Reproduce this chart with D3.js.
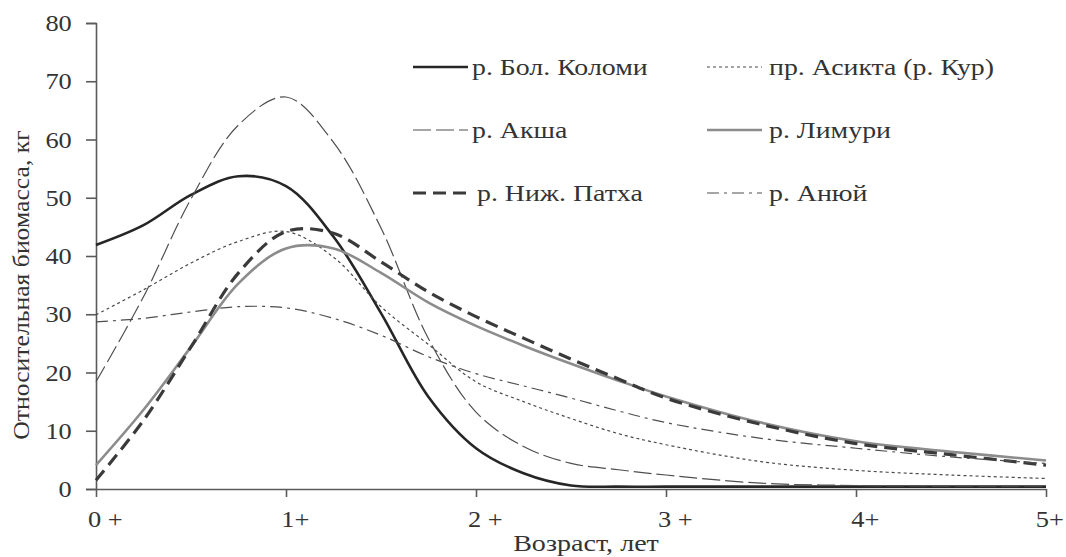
<!DOCTYPE html>
<html>
<head>
<meta charset="utf-8">
<script src="https://cdn.jsdelivr.net/npm/d3@7"></script>
<style>
  body { margin: 0; background: #fff; }
  svg { display: block; font-family: "Liberation Serif", "DejaVu Serif", serif; }
</style>
</head>
<body>
<svg id="chart"></svg>
<script>
const ages = [0, 0.25, 0.5, 0.75, 1, 1.25, 1.5, 1.75, 2, 2.25, 2.5, 2.75, 3, 3.5, 4, 4.5, 5];

const kolomi  = [41.9, 45.3, 50.5, 53.7, 52.0, 43.3, 30.2, 15.8, 7.0, 2.7, 0.6, 0.4, 0.4, 0.4, 0.4, 0.4, 0.4];
const aksha   = [18.4, 33.0, 49.8, 62.5, 67.3, 59.5, 44.8, 25.8, 13.2, 7.3, 4.4, 3.3, 2.4, 1.0, 0.6, 0.5, 0.5];
const patkha  = [1.5, 11.8, 24.4, 37.1, 44.2, 43.9, 39.0, 33.8, 29.6, 25.9, 22.3, 18.9, 15.6, 11.1, 7.8, 5.9, 4.1];
const asikta  = [29.9, 34.2, 38.8, 42.5, 44.2, 39.8, 31.3, 24.8, 18.4, 15.0, 12.1, 9.5, 7.6, 4.7, 3.2, 2.4, 1.8];
const limuri  = [4.1, 13.6, 24.4, 35.3, 41.3, 41.3, 37.1, 32.0, 28.0, 24.6, 21.5, 18.6, 15.9, 11.4, 8.2, 6.4, 4.9];
const anyui   = [28.7, 29.3, 30.4, 31.3, 31.1, 29.3, 26.4, 22.7, 19.8, 17.7, 15.6, 13.4, 11.4, 8.7, 7.0, 5.5, 4.4];

const seriesNames = ["р. Бол. Коломи", "пр. Асикта (р. Кур)", "р. Акша", "р. Лимури", "р. Ниж. Патха", "р. Анюй"];
const xTickValues = [0, 1, 2, 3, 4, 5];
const xTickLabels = ["0 +", "1+", "2 +", "3 +", "4+", "5+"];
const yTickValues = [0, 10, 20, 30, 40, 50, 60, 70, 80];

const width = 1066, height = 557;
const fontSize = 24;
const svg = d3.select("#chart").attr("width", width).attr("height", height);

const x = d3.scaleLinear().domain([0, 5]).range([96, 1046]);
const y = d3.scaleLinear().domain([0, 80]).range([489, 23]);

const axisColor = "#5a5a5a";
const textColor = "#333";

// line styles per series, same order as seriesNames
const styles = [
  { values: kolomi, stroke: "#262626", width: 2.6, dash: null },
  { values: asikta, stroke: "#4a4a4a", width: 1.2, dash: "3,3" },
  { values: aksha,  stroke: "#4f4f4f", width: 1.2, dash: "18,5" },
  { values: limuri, stroke: "#8c8c8c", width: 2.6, dash: null },
  { values: patkha, stroke: "#3a3a3a", width: 3.2, dash: "13,7" },
  { values: anyui,  stroke: "#4f4f4f", width: 1.2, dash: "12,5,3,5" }
];

/* AXES */
const yAxis = svg.append("g")
  .attr("transform", `translate(${x(0)},0)`)
  .call(d3.axisLeft(y).tickValues(yTickValues).tickSize(10).tickPadding(12).tickFormat(d3.format("d")));
yAxis.select(".domain").attr("stroke", axisColor).attr("stroke-width", 1.6);
yAxis.selectAll(".tick line").attr("stroke", axisColor).attr("stroke-width", 1.6);
yAxis.selectAll(".tick text")
  .attr("fill", textColor)
  .attr("transform", "scale(1.1,1)")
  .style("font-size", fontSize + "px")
  .style("font-family", "Liberation Serif");

const xAxis = svg.append("g")
  .attr("transform", `translate(0,${y(0)})`)
  .call(d3.axisBottom(x).tickValues(xTickValues).tickSize(8).tickSizeOuter(0).tickPadding(13)
    .tickFormat((d, i) => xTickLabels[i]));
xAxis.select(".domain").attr("stroke", axisColor).attr("stroke-width", 1.6);
xAxis.selectAll(".tick line").attr("stroke", axisColor).attr("stroke-width", 1.6);
xAxis.selectAll(".tick text")
  .attr("fill", textColor)
  .attr("dx", d => d === 5 ? 3 : 8)
  .attr("transform", "scale(1.1,1)")
  .style("font-size", fontSize + "px")
  .style("font-family", "Liberation Serif");

svg.append("text")
  .attr("transform", "translate(586,551) scale(1.17,1)")
  .attr("text-anchor", "middle")
  .attr("fill", textColor)
  .style("font-size", fontSize + "px")
  .text("Возраст, лет");

svg.append("text")
  .attr("transform", "translate(29,285) rotate(-90) scale(1.07,1)")
  .attr("text-anchor", "middle")
  .attr("fill", textColor)
  .style("font-size", fontSize + "px")
  .text("Относительная биомасса, кг");

/* CURVES */
const line = d3.line()
  .x((d, i) => x(ages[i]))
  .y(d => y(d))
  .curve(d3.curveCatmullRom.alpha(0.5));

svg.append("g").selectAll("path")
  .data(styles).enter()
  .append("path")
    .attr("d", d => line(d.values))
    .attr("fill", "none")
    .attr("stroke", d => d.stroke)
    .attr("stroke-width", d => d.width)
    .attr("stroke-dasharray", d => d.dash)
    .attr("stroke-linejoin", "round");

/* LEGEND */
const legend = svg.append("g").selectAll("g")
  .data(styles).enter()
  .append("g")
    .attr("transform", (d, i) => `translate(${i % 2 === 0 ? 413 : 707},${67 + Math.floor(i / 2) * 63})`);
legend.append("line")
  .attr("x1", 0).attr("x2", 55)
  .attr("stroke", d => d.stroke)
  .attr("stroke-width", d => d.width)
  .attr("stroke-dasharray", d => d.dash);
legend.append("text")
  .attr("transform", (d, i) => `translate(${i === 4 ? 64 : (i % 2 ? 62 : 59)},0) scale(1.16,1)`)
  .attr("dy", "0.33em")
  .attr("fill", textColor)
  .style("font-size", fontSize + "px")
  .text((d, i) => seriesNames[i]);
</script>
</body>
</html>
